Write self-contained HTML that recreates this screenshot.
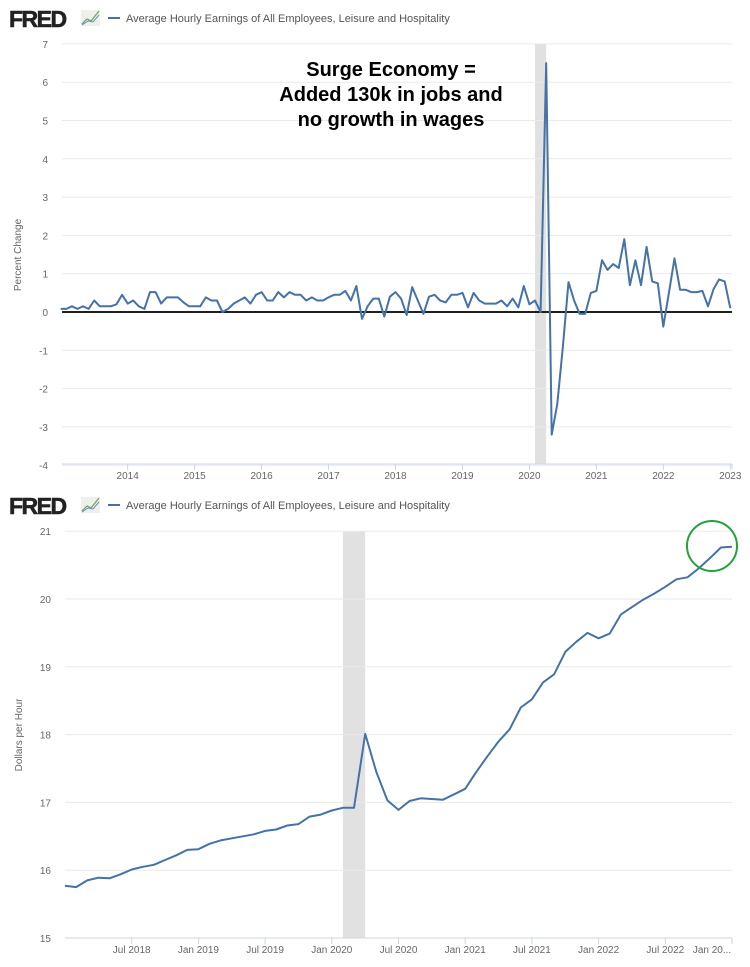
<!DOCTYPE html>
<html><head><meta charset="utf-8">
<style>
body{margin:0;background:#fff;width:750px;height:962px;overflow:hidden;font-family:"Liberation Sans",sans-serif;}
svg text{font-family:"Liberation Sans",sans-serif;}
</style></head>
<body>
<svg id="c" width="750" height="962" viewBox="0 0 750 962" xmlns="http://www.w3.org/2000/svg"></svg>
<script>
// ---- top chart data (percent change, monthly Jan 2013 - Jan 2023)
const pctValues = [
.08,.08,.15,.08,.15,.08,.3,.15,.15,.15,.2,.45,
.22,.3,.15,.08,.52,.52,.22,.38,.38,.38,.25,.15,
.15,.15,.38,.3,.3,0,.08,.22,.3,.38,.22,.45,
.52,.3,.3,.52,.38,.52,.45,.45,.3,.38,.3,.3,
.38,.45,.45,.55,.3,.68,-.18,.15,.35,.35,-.12,.4,
.52,.35,-.08,.65,.3,-.05,.4,.45,.3,.25,.45,.45,
.5,.12,.5,.3,.22,.22,.22,.3,.15,.35,.12,.68,
.2,.3,0,6.5,-3.2,-2.4,-.9,.78,.3,-.05,-.05,.5,
.55,1.35,1.1,1.25,1.15,1.9,.7,1.35,.7,1.7,.8,.75,
-.38,.5,1.4,.58,.58,.52,.52,.55,.15,.6,.85,.8,
.1];
const pctTicks = [-4,-3,-2,-1,0,1,2,3,4,5,6,7];
const yearLabels = ["2014","2015","2016","2017","2018","2019","2020","2021","2022","2023"];
// ---- bottom chart data (dollars per hour, monthly Jan 2018 - Jan 2023)
const wageValues = [
15.77,15.75,15.85,15.89,15.88,15.94,16.01,16.05,16.08,16.15,16.22,16.30,
16.31,16.39,16.44,16.47,16.50,16.53,16.58,16.60,16.66,16.68,16.79,16.82,
16.88,16.92,16.92,18.01,17.45,17.03,16.89,17.02,17.06,17.05,17.04,17.12,
17.20,17.45,17.68,17.90,18.08,18.40,18.52,18.77,18.89,19.22,19.37,19.50,
19.42,19.49,19.77,19.88,19.99,20.08,20.18,20.29,20.32,20.45,20.60,20.76,
20.77];
const wageTicks = [15,16,17,18,19,20,21];
const dateLabels = ["Jul 2018","Jan 2019","Jul 2019","Jan 2020","Jul 2020","Jan 2021","Jul 2021","Jan 2022","Jul 2022","Jan 20..."];

const NS="http://www.w3.org/2000/svg";
const svg=document.getElementById('c');
function mk(tag,attrs,parent){const e=document.createElementNS(NS,tag);for(const k in attrs)e.setAttribute(k,attrs[k]);(parent||svg).appendChild(e);return e;}
function txt(s,attrs,parent){const e=mk('text',attrs,parent);e.textContent=s;return e;}

function header(y){
  const g=mk('g',{});
  
  
  const l=txt('FRED',{x:9,y:y+9,'font-size':23,'font-weight':'bold',fill:'#222','letter-spacing':'-1.5',stroke:'#222','stroke-width':0.6},g);
  
  
  const ic=mk('g',{},g);
  
  
  mk('rect',{x:81,y:y-8,width:19,height:16,fill:'#eef0ea'},ic);
  mk('polyline',{points:`82,${y+6} 87,${y+1} 91,${y+3} 99,${y-7}`,fill:'none',stroke:'#7aa36a','stroke-width':1.3},ic);
  mk('polyline',{points:`82,${y+7} 88,${y+3} 93,${y+4} 99,${y-3}`,fill:'none',stroke:'#6b8fc4','stroke-width':1},ic);
  const lg=mk('g',{},g);
  
  
  mk('line',{x1:108,x2:120,y1:y,y2:y,stroke:'#4572a7','stroke-width':2},lg);
  txt('Average Hourly Earnings of All Employees, Leisure and Hospitality',{x:126,y:y+4,'font-size':11,fill:'#555'},lg);
}

// ===== TOP CHART =====
header(18);
const T={x0:62,x1:732,yTop:44,yBot:464};
const tY=v=>312-v*38.3;
const tX=i=>60.7+i*5.58;
const topG=mk('g',{});


const rs1=mk('rect',{x:tX(85),y:T.yTop,width:tX(87)-tX(85),height:T.yBot-T.yTop,fill:'#e1e1e1'},topG);


pctTicks.forEach(v=>{
  const gl=mk('line',{x1:T.x0,x2:T.x1,y1:tY(v),y2:tY(v),stroke:'#eaeaea','stroke-width':1},topG);
  
  
  const t=txt(String(v),{x:48,y:tY(v)+4,'font-size':10,fill:'#666','text-anchor':'end'},topG);
  
  
});
mk('line',{x1:T.x0,x2:T.x1,y1:T.yBot,y2:T.yBot,stroke:'#ccd6eb'},topG);
mk('line',{x1:T.x1,x2:T.x1,y1:T.yBot,y2:T.yBot+5,stroke:'#ccd6eb'},topG);
yearLabels.forEach((s,i)=>{
  const x=tX(12*(i+1));
  mk('line',{x1:x,x2:x,y1:T.yBot,y2:T.yBot+6,stroke:'#ccd6eb'},topG);
  const t=txt(s,{x:x,y:T.yBot+15,'font-size':10,fill:'#666','text-anchor':'middle'},topG);
  
  
});
const yt1=txt('Percent Change',{x:0,y:0,'font-size':10,fill:'#666','text-anchor':'middle',transform:'translate(21,255) rotate(-90)'},topG);


const zl=mk('line',{x1:T.x0,x2:T.x1,y1:tY(0),y2:tY(0),stroke:'#000','stroke-width':1.8},topG);


const p1=mk('polyline',{points:pctValues.map((v,i)=>tX(i).toFixed(1)+','+tY(v).toFixed(1)).join(' '),fill:'none',stroke:'#4572a7','stroke-width':2,'stroke-linejoin':'round'},topG);


const ann=mk('g',{},topG);


["Surge Economy =","Added 130k in jobs and","no growth in wages"].forEach((s,i)=>{
  txt(s,{x:391,y:76+i*25,'font-size':20,'font-weight':'bold',fill:'#000','text-anchor':'middle'},ann);
});

// ===== BOTTOM CHART =====
header(505);
const B={x0:65,x1:732,yTop:531,yBot:938};
const bY=v=>938-(v-15)*67.8;
const bX=i=>65+i*(667/60);
const botG=mk('g',{});


const rs2=mk('rect',{x:bX(25),y:B.yTop,width:bX(27)-bX(25),height:B.yBot-B.yTop,fill:'#e1e1e1'},botG);


wageTicks.forEach(v=>{
  const gl=mk('line',{x1:B.x0,x2:B.x1,y1:bY(v),y2:bY(v),stroke:v===15?'#ccd6eb':'#eaeaea','stroke-width':1},botG);
  
  
  const t=txt(String(v),{x:51,y:bY(v)+4,'font-size':10,fill:'#666','text-anchor':'end'},botG);
  
  
});
dateLabels.forEach((s,i)=>{
  const x=bX(6*(i+1));
  mk('line',{x1:x,x2:x,y1:B.yBot,y2:B.yBot+6,stroke:'#ccd6eb'},botG);
  const t=txt(s,{x:i===9?x-20:x,y:B.yBot+15,'font-size':10,fill:'#666','text-anchor':'middle'},botG);
  
  
});
const yt2=txt('Dollars per Hour',{x:0,y:0,'font-size':10,fill:'#666','text-anchor':'middle',transform:'translate(22,735) rotate(-90)'},botG);


const p2=mk('polyline',{points:wageValues.map((v,i)=>bX(i).toFixed(1)+','+bY(v).toFixed(1)).join(' '),fill:'none',stroke:'#4572a7','stroke-width':2,'stroke-linejoin':'round'},botG);


const circ=mk('ellipse',{cx:712,cy:546,rx:25,ry:25,fill:'none',stroke:'#22a33a','stroke-width':2},botG);


</script>
</body></html>
